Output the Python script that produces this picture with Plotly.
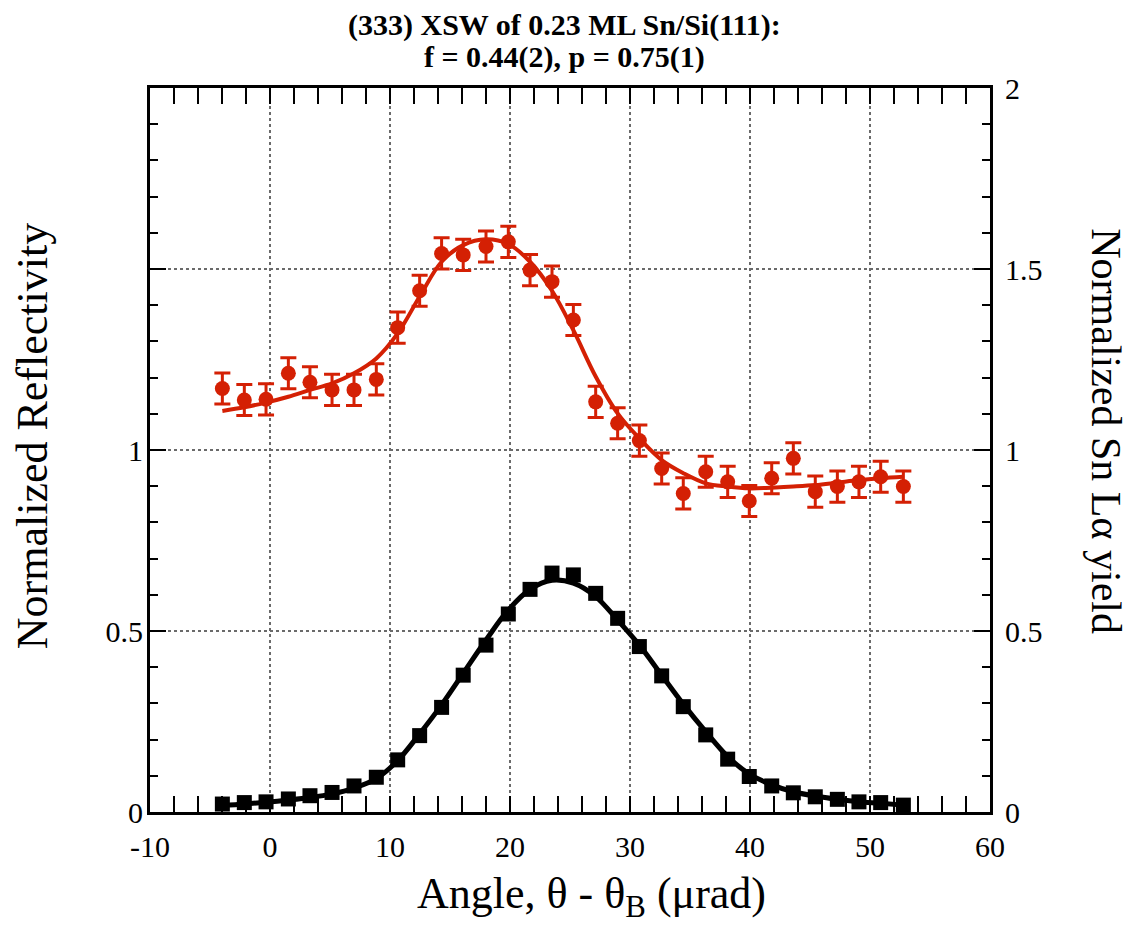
import plotly.graph_objects as go

# ---- data ----
angle = [-3.97, -2.14, -0.33, 1.53, 3.33, 5.17, 7.00, 8.86, 10.64, 12.47, 14.30, 16.10,
         18.00, 19.86, 21.67, 23.50, 25.28, 27.14, 28.97, 30.78, 32.64, 34.44, 36.31, 38.14,
         39.94, 41.81, 43.61, 45.44, 47.28, 49.08, 50.89, 52.78]

sn_yield = [1.170, 1.138, 1.140, 1.212, 1.187, 1.166, 1.166, 1.195, 1.338, 1.440, 1.543, 1.539,
            1.562, 1.575, 1.497, 1.465, 1.359, 1.133, 1.074, 1.026, 0.949, 0.880, 0.940, 0.912,
            0.859, 0.922, 0.977, 0.885, 0.899, 0.912, 0.926, 0.899]
sn_err = [0.043, 0.043, 0.043, 0.043, 0.043, 0.043, 0.043, 0.043, 0.043, 0.043, 0.043, 0.043,
          0.043, 0.043, 0.043, 0.043, 0.043, 0.043, 0.043, 0.043, 0.043, 0.043, 0.043, 0.043,
          0.043, 0.043, 0.043, 0.043, 0.043, 0.043, 0.043, 0.043]
sn_fit = [1.108, 1.118, 1.131, 1.147, 1.166, 1.184, 1.212, 1.253, 1.322, 1.424, 1.520, 1.566,
          1.582, 1.569, 1.520, 1.440, 1.331, 1.203, 1.101, 1.032, 0.972, 0.936, 0.908, 0.899,
          0.894, 0.896, 0.899, 0.903, 0.910, 0.917, 0.922, 0.926]

refl = [0.022, 0.026, 0.028, 0.036, 0.045, 0.054, 0.072, 0.096, 0.144, 0.211, 0.289, 0.378,
        0.461, 0.547, 0.615, 0.660, 0.655, 0.604, 0.535, 0.457, 0.376, 0.291, 0.213, 0.146,
        0.098, 0.072, 0.053, 0.042, 0.035, 0.028, 0.026, 0.019]
refl_fit = [0.018, 0.022, 0.027, 0.033, 0.040, 0.050, 0.066, 0.092, 0.142, 0.216, 0.296, 0.383,
            0.475, 0.558, 0.615, 0.640, 0.632, 0.595, 0.530, 0.461, 0.378, 0.298, 0.222, 0.153,
            0.105, 0.075, 0.056, 0.044, 0.035, 0.028, 0.024, 0.019]

x_ticks = [-10, 0, 10, 20, 30, 40, 50, 60]
y_ticks = [0, 0.5, 1, 1.5, 2]
y_left_ticks = [0, 0.5, 1]
y_left_text = ["0", "0.5", "1"]
y_right_text = ["0", "0.5", "1", "1.5", "2"]

RED = "#d42004"
FONT = "Liberation Serif"
GRID = "#6a6a6a"

fig = go.Figure()

fig.add_trace(go.Scatter(x=angle, y=refl_fit, mode="lines", line=dict(color="black", width=5, shape="spline"),
                         hoverinfo="skip", showlegend=False))
fig.add_trace(go.Scatter(x=angle, y=sn_fit, mode="lines", line=dict(color=RED, width=4, shape="spline"),
                         hoverinfo="skip", showlegend=False))
fig.add_trace(go.Scatter(x=angle, y=refl, mode="markers",
                         marker=dict(symbol="square", size=15, color="black"), showlegend=False))
fig.add_trace(go.Scatter(x=angle, y=sn_yield, mode="markers",
                         marker=dict(symbol="circle", size=15, color=RED),
                         error_y=dict(type="data", array=sn_err, visible=True, color=RED, thickness=3, width=8),
                         showlegend=False))
# invisible traces to enable the label-only axes
fig.add_trace(go.Scatter(x=[angle[0]], y=[sn_yield[0]], yaxis="y2", mode="markers",
                         marker=dict(opacity=0), hoverinfo="skip", showlegend=False))
fig.add_trace(go.Scatter(x=[angle[0]], y=[sn_yield[0]], yaxis="y3", mode="markers",
                         marker=dict(opacity=0), hoverinfo="skip", showlegend=False))

tickfont = dict(family=FONT, size=30, color="black")

fig.update_layout(
    width=1131, height=935,
    margin=dict(l=150, r=141, t=88, b=123),
    paper_bgcolor="white", plot_bgcolor="white",
    font=dict(family=FONT, color="black"),
    xaxis=dict(
        range=[-10, 60], tickvals=x_ticks, ticktext=[str(v) for v in x_ticks],
        showline=True, linecolor="black", linewidth=2.5, mirror="allticks",
        ticks="inside", ticklen=16, tickwidth=2, tickcolor="black", zeroline=False,
        showgrid=True, gridcolor=GRID, griddash="dot", gridwidth=2,
        minor=dict(dtick=2, tick0=0, ticks="inside", ticklen=8, tickwidth=2, tickcolor="black", showgrid=False),
        tickfont=tickfont, ticklabelstandoff=6,
    ),
    yaxis=dict(
        range=[0, 2], tickvals=y_ticks, showticklabels=False,
        showline=True, linecolor="black", linewidth=2.5, mirror="allticks",
        ticks="inside", ticklen=16, tickwidth=2, tickcolor="black", zeroline=False,
        showgrid=True, gridcolor=GRID, griddash="dot", gridwidth=2,
        minor=dict(dtick=0.1, tick0=0, ticks="inside", ticklen=8, tickwidth=2, tickcolor="black", showgrid=False),
    ),
    yaxis3=dict(
        range=[0, 2], overlaying="y", side="left", tickvals=y_left_ticks, ticktext=y_left_text,
        showgrid=False, showline=False, ticks="", zeroline=False,
        tickfont=tickfont, ticklabelstandoff=6,
    ),
    yaxis2=dict(
        range=[0, 2], overlaying="y", side="right", tickvals=y_ticks, ticktext=y_right_text,
        showgrid=False, showline=False, ticks="", zeroline=False,
        tickfont=tickfont, ticklabelstandoff=14,
    ),
    annotations=[
        dict(text="<b>(333) XSW of 0.23 ML Sn/Si(111):</b>", x=0.494, y=1.0875, xref="paper", yref="paper",
             showarrow=False, xanchor="center", yanchor="middle", font=dict(family=FONT, size=30, color="black")),
        dict(text="<b>f = 0.44(2), p = 0.75(1)</b>", x=0.494, y=1.0425, xref="paper", yref="paper",
             showarrow=False, xanchor="center", yanchor="middle", font=dict(family=FONT, size=30, color="black")),
        dict(text="Angle, θ - θ<sub>B</sub> (μrad)", x=0.526, y=-0.117, xref="paper", yref="paper",
             showarrow=False, xanchor="center", yanchor="middle", font=dict(family=FONT, size=44, color="black")),
        dict(text="Normalized Reflectivity", x=-0.1405, y=0.519, xref="paper", yref="paper", textangle=-90,
             showarrow=False, xanchor="center", yanchor="middle", font=dict(family=FONT, size=44, color="black")),
        dict(text="Normalized Sn Lα yield", x=1.138, y=0.526, xref="paper", yref="paper", textangle=90,
             showarrow=False, xanchor="center", yanchor="middle", font=dict(family=FONT, size=42, color="black")),
    ],
)

fig.write_html("out.html")
